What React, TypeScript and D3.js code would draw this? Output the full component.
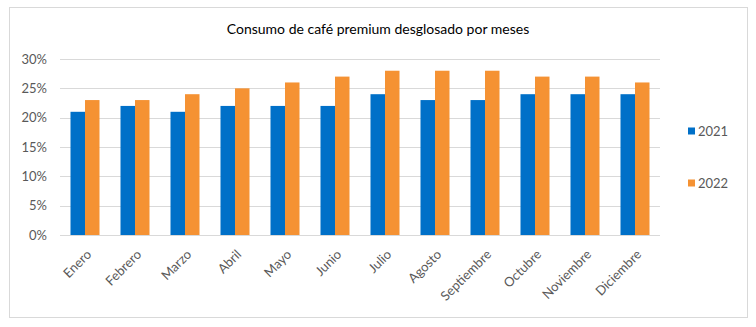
import React from "react";
import * as d3 from "d3";

const months = ["Enero","Febrero","Marzo","Abril","Mayo","Junio","Julio","Agosto","Septiembre","Octubre","Noviembre","Diciembre"];
const values2021 = [21,22,21,22,22,22,24,23,23,24,24,24];
const values2022 = [23,23,24,25,26,27,28,28,28,27,27,26];
const seriesNames = ["2021","2022"];
const yTicks = [0,5,10,15,20,25,30];
const colors = ["#0070C8","#F59233"];
const title = "Consumo de café premium desglosado por meses";

export default function App() {
  const W = 756, H = 327;
  const left = 60, right = 660, top = 59, bottom = 235;
  const x = d3.scaleBand().domain(months).range([left, right]).paddingInner(0.42).paddingOuter(0.21);
  const xs = d3.scaleBand().domain(seriesNames).range([0, x.bandwidth()]);
  const y = d3.scaleLinear().domain([0, 30]).range([bottom, top]);
  const series = [values2021, values2022];
  const font = "Lato, 'Open Sans', sans-serif";
  return (
    <svg width={W} height={H} style={{ position: "absolute", left: 0, top: 0, display: "block" }} fontFamily={font}>
      <rect x={0} y={0} width={W} height={H} fill="#fff" />
      <rect x={9.5} y={7.5} width={738} height={310} fill="#fff" stroke="#d9d9d9" strokeWidth={1} />
      <text x={378} y={34} textAnchor="middle" fontSize={14} fill="#000">{title}</text>
      {yTicks.map(t => (
        <g key={t}>
          <line x1={left} x2={right} y1={Math.round(y(t)) + 0.5} y2={Math.round(y(t)) + 0.5} stroke="#d9d9d9" />
          <text x={47} y={y(t)} dy="0.35em" textAnchor="end" fontSize={13} fill="#595959">{t}%</text>
        </g>
      ))}
      {months.map((m, i) => (
        <g key={m}>
          {series.map((s, k) => (
            <rect key={k} x={(x(m) as number) + (xs(seriesNames[k]) as number)} y={y(s[i])} width={xs.bandwidth()} height={y(0) - y(s[i])} fill={colors[k]} />
          ))}
          <text transform={`translate(${(x(m) as number) + x.bandwidth() / 2 + 4},${bottom + 17}) rotate(-45)`} textAnchor="end" dy="0.35em" fontSize={13} fill="#595959">{m}</text>
        </g>
      ))}
      {seriesNames.map((n, k) => (
        <g key={n} transform={`translate(688,${131 + k * 52})`}>
          <rect x={0} y={-3.5} width={7} height={7} fill={colors[k]} />
          <text x={10} y={0} dy="0.35em" fontSize={13} fill="#595959">{n}</text>
        </g>
      ))}
    </svg>
  );
}
